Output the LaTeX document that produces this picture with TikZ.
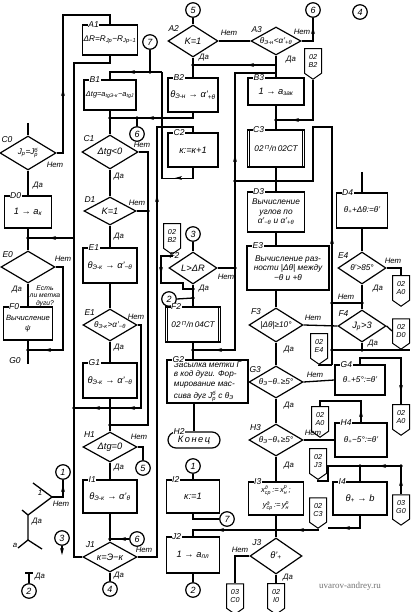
\documentclass[tikz,border=0pt]{standalone}
\usepackage{fontspec}
\usepackage{amsmath}
\setmainfont{Liberation Sans}
\newfontfamily\wmfont{Liberation Serif}
\usetikzlibrary{shapes.geometric,shapes.symbols,arrows.meta}
\newcommand\Sb[1]{\ensuremath{_{\text{#1}}}}
\newcommand\Sp[1]{\ensuremath{^{\text{#1}}}}
\newcommand\Sbp[2]{\ensuremath{_{\text{#1}}^{\text{#2}}}}
\newcommand\aL[2]{\draw[atip] (#1+3,#2) -- (#1-3,#2);}
\newcommand\aU[2]{\draw[atip] (#1,#2+3) -- (#1,#2-3);}
\newcommand\aD[2]{\draw[atip] (#1,#2-3) -- (#1,#2+3);}
\tikzset{
  f9/.style={font=\itshape\fontsize{9.3}{10.3}\selectfont},
  f8/.style={font=\itshape\fontsize{8.2}{9.2}\selectfont},
  f7/.style={font=\itshape\fontsize{8.3}{9.3}\selectfont},
  box/.style={draw,line width=1.2pt,rectangle,inner sep=1pt,align=center,f9},
  bl/.style={label={[lab,fill=white,anchor=west,xshift=5pt]north west:#1}},
  dia/.style={draw,line width=1.2pt,diamond,inner sep=0pt},
  dl/.style={label={[lab]north west:#1}},
  dt/.style={label={[f9,inner sep=0pt]center:#1}},
  dts/.style={label={[f8,inner sep=0pt]center:#1}},
  lab/.style={font=\itshape\fontsize{8.5}{9}\selectfont,inner sep=0.6pt},
  yn/.style={font=\itshape\fontsize{7.8}{8.5}\selectfont,inner sep=0pt},
  circ/.style={draw,circle,line width=1.2pt,minimum size=14.5pt,inner sep=0pt,font=\itshape\fontsize{9}{9}\selectfont},
  pent/.style={draw,line width=1pt,shape=signal,signal to=south,signal pointer angle=110,minimum width=17pt,minimum height=28pt,inner sep=0.5pt,align=center,font=\itshape\fontsize{7.2}{7.8}\selectfont},
  jd/.style={circle,fill,inner sep=0pt,minimum size=3.6pt},
  atip/.style={-{Stealth[length=7pt,width=3.8pt]}},
}
\begin{document}
\begin{tikzpicture}[x=1pt,y=-1pt,line width=1.3pt]
\fill[white] (0,0) rectangle (410,612);
\useasboundingbox (0,0) rectangle (410,612);

% ================= NODES =================
% column 0
\node[dia,minimum width=56pt,minimum height=34pt,dl=C0,dts={J\Sb{р}=J\Sbp{р}{б}}] (C0) at (28,153) {};
\node[box,minimum width=47pt,minimum height=32pt,bl=D0] (D0) at (28,212) {1 → a\Sb{к}};
\node[dia,minimum width=54pt,minimum height=32pt,dl=E0] (E0) at (28,267) {};
\node[yn,align=center,font=\itshape\fontsize{6.8}{7.6}\selectfont] (E0t) at (45,296) {Есть\\ли метка\\дуги?};
\node[box,minimum width=49pt,minimum height=33pt,bl=F0,font=\itshape\fontsize{7.6}{9.5}\selectfont] (F0) at (28,323.5) {Вычисление\\ψ};
\node[lab] (G0) at (15,361) {G0};
\node[circ] (L1) at (63,472) {1};
\node[circ] (L3) at (62,538) {3};
\node[circ] (L2) at (29,591) {2};

% column 1
\node[box,minimum width=52pt,minimum height=30pt,bl=A1,f8] (A1) at (110,40) {ΔR=R\Sb{Jр}−R\Sb{Jр−1}};
\node[box,minimum width=52pt,minimum height=30pt,bl=B1,font=\itshape\fontsize{7.4}{8}\selectfont] (B1) at (110,95) {Δtg=a\Sb{tgЭ-к}−a\Sb{tgJ}};
\node[circ] (c7) at (150,42) {7};
\node[dia,minimum width=56pt,minimum height=34pt,dl=C1,dt={Δtg<0}] (C1) at (110,152) {};
\node[circ] (c6a) at (137,134) {6};
\node[dia,minimum width=52pt,minimum height=28pt,dl=D1,dt={K=1}] (D1) at (110,211) {};
\node[box,minimum width=54pt,minimum height=35pt,bl=E1] (E1) at (110,265.5) {θ\Sb{Э-к} → α'\Sb{−θ}};
\node[dia,minimum width=54pt,minimum height=32pt,dl=E1,dts={θ\Sb{Э-к}>α'\Sb{−θ}}] (E1d) at (110,325) {};
\node[box,minimum width=54pt,minimum height=35pt,bl=G1] (G1) at (110,380.5) {θ\Sb{Э-к} → α'\Sb{−θ}};
\node[dia,minimum width=54pt,minimum height=30pt,dl=H1,dt={Δtg=0}] (H1) at (110,447) {};
\node[circ] (c5b) at (143,468) {5};
\node[box,minimum width=54pt,minimum height=33pt,bl=I1] (I1) at (110,496.5) {θ\Sb{Э-к} → α'\Sb{θ}};
\node[circ] (c6b) at (137,539) {6};
\node[dia,minimum width=54pt,minimum height=30pt,dl=J1,dt={к=Э−к}] (J1) at (110,557) {};
\node[circ] (c4b) at (110,589) {4};

% column 2
\node[circ] (c5t) at (193,10) {5};
\node[dia,minimum width=50pt,minimum height=32pt,dl=A2,dt={K=1}] (A2) at (193,41) {};
\node[box,minimum width=50pt,minimum height=34pt,bl=B2] (B2) at (193,95) {θ\Sb{Э-н} → α'\Sb{+θ}};
\node[box,minimum width=50pt,minimum height=34pt,bl=C2] (C2) at (193,150) {к:=к+1};
\node[pent] (p02B2b) at (172,236) {02\\B2};
\node[circ] (c3) at (193,234) {3};
\node[dia,minimum width=48pt,minimum height=32pt,dl=F2,dt={L>ΔR}] (F2d) at (193,268) {};
\node[circ] (c2a) at (169,299) {2};
\node[box,minimum width=55pt,minimum height=35pt,bl=F2,f8] (F2b) at (193,324.5) {02\,\Sp{П}/п\,04СТ};
\node[box,minimum width=81pt,minimum height=43pt,bl=G2,align=left,font=\itshape\fontsize{8.2}{9.4}\selectfont] (G2) at (207.5,381.5) {Засылка метки Г\\в код дуги. Фор-\\мирование мас-\\[2.5pt]сива дуг J\Sbp{р}{б} с θ\Sb{Э}};
\node[box,rounded corners=8pt,minimum width=52pt,minimum height=16pt,bl=H2] (H2) at (194,440) {К\,о\,н\,е\,ц};
\node[circ] (c1b) at (193,466) {1};
\node[box,minimum width=53pt,minimum height=33pt,bl=I2] (I2) at (193,496.5) {к:=1};
\node[circ] (c7b) at (227,519) {7};
\node[box,minimum width=53pt,minimum height=36pt,bl=J2] (J2) at (193,555) {1 → a\Sb{пл}};
\node[circ] (c2b) at (193,590) {2};

% column 3
\node[dia,minimum width=50pt,minimum height=28pt,dl=A3,dts={θ\Sb{Э-н}<α'\Sb{+θ}}] (A3) at (276,41) {};
\node[circ] (c6t) at (313,10) {6};
\node[circ] (c4t) at (360,12) {4};
\node[pent] (p02B2a) at (313,61) {02\\B2};
\node[box,minimum width=56pt,minimum height=27pt,bl=B3] (B3) at (276,91.5) {1 → a\Sb{зак}};
\node[box,minimum width=57pt,minimum height=37pt,bl=C3,f8] (C3) at (276,148.5) {02\,\Sp{П}/п\,02СТ};
\node[box,minimum width=57pt,minimum height=40pt,bl=D3,f7] (D3) at (276,212) {Вычисление\\углов по\\α'\Sb{−θ} и α'\Sb{+θ}};
\node[box,minimum width=82pt,minimum height=44pt,bl=E3,f7] (E3) at (288,268) {Вычисление раз-\\ности |Δθ| между\\−θ и +θ};
\node[dia,minimum width=54pt,minimum height=34pt,dl=F3,dts={|Δθ|≥10°}] (F3) at (276,325) {};
\node[dia,minimum width=54pt,minimum height=32pt,dl=G3,dts={θ\Sb{Э}−θ\Sb{−}≥5°}] (G3) at (276,382) {};
\node[dia,minimum width=54pt,minimum height=32pt,dl=H3,dts={θ\Sb{Э}−θ\Sb{+}≥5°}] (H3) at (276,440) {};
\node[box,minimum width=55pt,minimum height=33pt,bl=I3,font=\itshape\fontsize{7.6}{8.6}\selectfont] (I3) at (276,498.5) {x\Sbp{ср}{д}\,:=\,x\Sbp{н}{р}\,;\\[4.5pt]y\Sbp{ср}{д}\,:=\,y\Sbp{н}{р}};
\node[dia,minimum width=52pt,minimum height=36pt,dl=J3,dt={θ'\Sb{+}}] (J3) at (276,556) {};
\node[pent] (p02I0) at (276,596) {02\\I0};
\node[pent] (p03C0) at (235,596) {03\\C0};
\node[pent] (p02E4) at (319,346) {02\\E4};
\node[pent] (p02A0c) at (320,419) {02\\A0};
\node[pent] (p02J3) at (318,461) {02\\J3};
\node[pent] (p02C3) at (318,510) {02\\C3};

% column 4
\node[box,minimum width=51pt,minimum height=35pt,bl=D4,f8] (D4) at (362,210.5) {θ\Sb{+}+Δθ:=θ'};
\node[dia,minimum width=48pt,minimum height=32pt,dl=E4,dts={θ'>85°}] (E4) at (362,268) {};
\node[pent] (p02A0a) at (401,288) {02\\A0};
\node[dia,minimum width=48pt,minimum height=32pt,dl=F4,dt={J\Sb{р}>3}] (F4) at (362,326) {};
\node[pent] (p02D0) at (401,331) {02\\D0};
\node[box,minimum width=50pt,minimum height=30pt,bl=G4,f8] (G4) at (360,380) {θ\Sb{−}+5°:=θ'};
\node[pent] (p02A0b) at (401,417) {02\\A0};
\node[box,minimum width=52pt,minimum height=34pt,bl=H4,f8] (H4) at (361,440) {θ\Sb{+}−5°:=θ'};
\node[box,minimum width=54pt,minimum height=33pt,bl=I4] (I4) at (360,498.5) {θ\Sb{+} → b};
\node[pent] (p03G0) at (401,507) {03\\G0};

% ================= CONNECTORS =================
% column 0
\coordinate (c0in) at (28,123);
\draw (c0in) -- (C0.north);
\coordinate (k1) at (63,15);
\draw (C0.east) -| (k1) -| (A1.north);
\aU{63}{92}
\draw (C0.south) -- (D0.north);
\coordinate (j0a) at (28,238);
\draw (D0.south) -- (E0.north);
\coordinate (k2) at (74,63);
\coordinate (k7) at (74,557);
\draw (A1.south) |- (k2) -- (k7) -- (J1.west);
\draw (k2 |- j0a) -- (j0a);
\aL{52}{238}
\coordinate (j0b) at (28,350);
\coordinate (k3) at (63,350);
\draw (E0.east) -| (k3) -- (j0b);
\aL{47}{350}
\draw (E0.south) -- (F0.north);
\coordinate (g0o) at (28,364);
\draw (F0.south) -- (g0o);
\node[jd] (d1) at (j0a) {};
\node[jd] (d2) at (j0b) {};
\node[yn] (t1) at (55,165) {Нет};
\node[yn] (t2) at (38,186) {Да};
\node[yn] (t3) at (63,259) {Нет};
\node[yn] (t4) at (17,290) {Да};

% legend
\coordinate (lg1) at (33,483); \coordinate (lg2) at (52,497);
\coordinate (lg3) at (28,515); \coordinate (lg4) at (22,510);
\coordinate (lg5) at (28,540); \coordinate (lg6) at (18,548);
\coordinate (lg7) at (42,549);
\draw (lg1) -- (lg2) -- (lg3);
\draw (lg4) -- (lg3) -- (lg5);
\draw (lg6) -- (lg5) -- (lg7);
\draw (lg2) -| (L1.south);
\aU{63}{488}
\coordinate (lg8) at (62,555);
\draw[atip] (L3.south) -- (lg8);
\coordinate (lg9) at (29,573);
\coordinate (lg10) at (25,573); \coordinate (lg11) at (33,573);
\draw (lg9) -- (L2.north);
\draw (lg10) -- (lg11);
\node[yn] (t5) at (40,493) {1};
\node[yn] (t6) at (61,504) {Нет};
\node[yn] (t7) at (37,522) {Да};
\node[yn] (t8) at (15,545) {a};
\node[yn] (t9) at (40,577) {Да};

% column 1
\coordinate (j1a) at (150,72);
\coordinate (k4) at (162,72);
\draw (c7.south) -- (j1a);
\draw (k4) -- (k4 -| B1.north) -- (B1.north);
\aL{131}{72}
\draw (C2.south) -- ++(0,11) -| (k4);
\aL{178}{178}
\node[jd] (d3) at (j1a) {};
\coordinate (j1b) at (110,118);
\draw (B1.south) -- (C1.north);
\draw (B2.south) |- (j1b);
\aL{150}{118}
\node[jd] (d4) at (j1b) {};
\draw (c6a.north) -- (c6a.north |- j1b);
\node[jd] (d4b) at (c6a.north |- j1b) {};
\draw (C1.south) -- (D1.north);
\coordinate (k5) at (148,425);
\draw (C1.east) -| (k5) -- (k5 -| H1.north);
\draw (D1.east) -- (D1.east -| k5);
\node[jd] (d5) at (k5 -| H1.north) {};
\node[jd] (d5b) at (D1.east -| k5) {};
\draw (D1.south) -- (E1.north);
\draw (E1.south) -- (E1d.north);
\draw (E1d.south) -- (G1.north);
\coordinate (j1c) at (110,408);
\coordinate (k6) at (141,408);
\draw (E1d.east) -| (k6) -- (j1c) -- (k7 |- j1c);
\aL{131}{408}
\aL{96}{408}
\node[jd] (d6) at (j1c) {};
\node[jd] (d7) at (k7 |- j1c) {};
\draw (G1.south) -- (H1.north);
\draw (H1.east) -| (c5b.north);
\draw (H1.south) -- (I1.north);
\coordinate (j1e) at (110,539);
\draw (I1.south) -- (J1.north);
\draw (c6b.west) -- (j1e);
\aL{122}{539}
\node[jd] (d8) at (j1e) {};
\draw (J1.south) -- (c4b.north);
\coordinate (k9) at (157,127);
\draw (J1.east) -| (k9) -| (C2.north);
\aU{157}{198}
\node[yn] (t10) at (142,145) {Нет};
\node[yn] (t11) at (119,177) {Да};
\node[yn] (t12) at (137,203) {Нет};
\node[yn] (t13) at (119,237) {Да};
\node[yn] (t14) at (136,317) {Нет};
\node[yn] (t15) at (119,348) {Да};
\node[yn] (t16) at (139,437) {Нет};
\node[yn] (t17) at (119,468) {Да};
\node[yn] (t18) at (144,550) {Нет};
\node[yn] (t19) at (119,576) {Да};

% column 2
\draw (c5t.south) -- (A2.north);
\draw (A2.east) -- (A3.west);
\draw (A2.south) -- (B2.north);
\coordinate (j2a) at (193,65);
\coordinate (k10) at (276,65);
\draw (k10) -- (j2a);
\aL{250}{65}
\node[jd] (d10) at (j2a) {};
\coordinate (k11) at (235,73);
\coordinate (k11b) at (276,73);
\coordinate (k12) at (235,350);
\coordinate (j2c) at (193,350);
\draw (k11b) -- (k11) -- (k12) -- (j2c);
\aU{235}{158}
\aL{218}{350}
\node[jd] (d12) at (j2c) {};
\draw (c3.south) -- (F2d.north);
\draw (F2d.east) -- (F2d.east -| k11);
\node[jd] (d13) at (F2d.east -| k11) {};
\draw (F2d.south) -- (F2b.north);
\coordinate (j2b) at (193,289);
\coordinate (j2bb) at (193,298);
\coordinate (k18) at (161,256);
\coordinate (k19) at (161,283);
\coordinate (k20) at (183,283);
\draw (p02B2b.south) |- (k18) -- (k19) -- (k20) |- (j2b);
\aD{161}{271}
\draw (c2a.east) -- (j2bb);
\node[jd] (d14) at (j2b) {};
\node[jd] (d15) at (j2bb) {};
\draw[line width=0.9pt] ([xshift=3pt]F2b.north west) -- ([xshift=3pt]F2b.south west);
\draw[line width=0.9pt] ([xshift=-3pt]F2b.north east) -- ([xshift=-3pt]F2b.south east);
\draw (F2b.south) -- (F2b.south |- G2.north);
\draw (G2.south -| H2.north) -- (H2.north);
\draw (c1b.south) -- (I2.north);
\draw (I2.south) |- (c7b.west);
\draw (J2.south) -- (c2b.north);
\node[yn] (t20) at (229,33) {Нет};
\node[yn] (t21) at (204,58) {Да};
\node[yn] (t22) at (226,277) {Нет};
\node[yn] (t23) at (204,289) {Да};

% column 3
\draw (A3.south) -- (B3.north);
\draw (A3.east) -| (c6t.south);
\aU{313}{30}
\coordinate (j3a) at (276,120);
\draw (B3.south) -- (C3.north);
\draw (p02B2a.south) |- (j3a);
\aL{295}{120}
\node[jd] (d16) at (j3a) {};
\draw[line width=0.9pt] ([xshift=3pt]C3.north west) -- ([xshift=3pt]C3.south west);
\draw[line width=0.9pt] ([xshift=-3pt]C3.north east) -- ([xshift=-3pt]C3.south east);
\coordinate (j3b) at (276,181);
\draw (C3.south) -- (D3.north);
\node[jd] (d17) at (j3b) {};
\coordinate (k13) at (235,181);
\coordinate (k14) at (313,181);
\coordinate (k15) at (313,127);
\coordinate (k16) at (332,127);
\coordinate (k17) at (332,365);
\draw (k13) -- (k14) -- (k15) -- (k16) -- (k17);
\node[jd] (d18) at (k13) {};
\aU{332}{240}
\draw (D3.south) -- (D3.south |- E3.north);
\draw (F3.north |- E3.south) -- (F3.north);
\draw (F3.south) -- (G3.north);
\draw (G3.south) -- (H3.north);
\draw (H3.south) -- (I3.north);
\coordinate (j3c) at (276,530);
\draw (I3.south) -- (J3.north);
\draw (p02C3.south) |- (j3c) -- (j3c -| J2.north) -- (J2.north);
\aL{300}{530}
\aL{220}{530}
\node[jd] (d19) at (j3c) {};
\draw (J3.west) -| (p03C0.north);
\draw (J3.south) -- (p02I0.north);
\draw (F3.east) -- (F4.west);
\draw (G3.east) -- (G4.west);
\draw (H3.east) -- (H4.west);
\node[yn] (t24) at (302,32) {Нет};
\node[yn] (t25) at (291,60) {Да};
\node[yn] (t26) at (313,318) {Нет};
\node[yn] (t27) at (289,350) {Да};
\node[yn] (t28) at (315,375) {Нет};
\node[yn] (t29) at (289,406) {Да};
\node[yn] (t30) at (313,433) {Нет};
\node[yn] (t31) at (289,466) {Да};
\node[yn] (t32) at (240,550) {Нет};
\node[yn] (t33) at (288,578) {Да};

% column 4
\coordinate (d4in) at (362,172);
\draw (d4in) -- (D4.north);
\draw (D4.south) -- (E4.north);
\draw (E4.east) -| (p02A0a.north);
\draw (E4.south) -- (F4.north);
\coordinate (j4a) at (362,303);
\draw (j4a) -- (k16 |- j4a);
\node[jd] (d20) at (j4a) {};
\node[jd] (d21) at (k16 |- j4a) {};
\draw (F4.east) -- (p02D0.west);
\coordinate (j4b) at (362,350);
\coordinate (k22) at (410,350);
\draw (F4.south) -- (j4b);
\draw (k16 |- j4b) -- (k22);
\node[jd] (d22) at (j4b) {};
\node[jd] (d23) at (k16 |- j4b) {};
\draw (p02E4.south) |- (k17);
\coordinate (k23) at (401,358);
\draw (G4.north) |- (k23) -- (p02A0b.north);
\aD{401}{389}
\coordinate (k24) at (320,401);
\draw (H4.north) |- (k24) -- (p02A0c.north);
\aU{361}{413}
\coordinate (k25) at (328,481);
\coordinate (k26) at (328,466);
\coordinate (j4c) at (360,466);
\draw (p02J3.south) |- (k25) -- (k26) -- (j4c) -- (I4.north);
\draw (p03G0.north) |- (j4c);
\aU{401}{482}
\aL{382}{466}
\node[jd] (d24) at (j4c) {};
\node[jd] (d25) at (p03G0.north |- j4c) {};
\coordinate (k27) at (328,528);
\draw (I4.south) |- (k27);
\aL{346}{528}
\node[yn] (t34) at (393,261) {Нет};
\node[yn] (t35) at (378,289) {Да};
\node[yn] (t36) at (346,297) {Нет};
\node[yn] (t37) at (373,344) {Да};

\node[font=\wmfont\fontsize{9}{10}\selectfont,text=black!55] (wm) at (350,586) {uvarov-andrey.ru};
\end{tikzpicture}
\end{document}
